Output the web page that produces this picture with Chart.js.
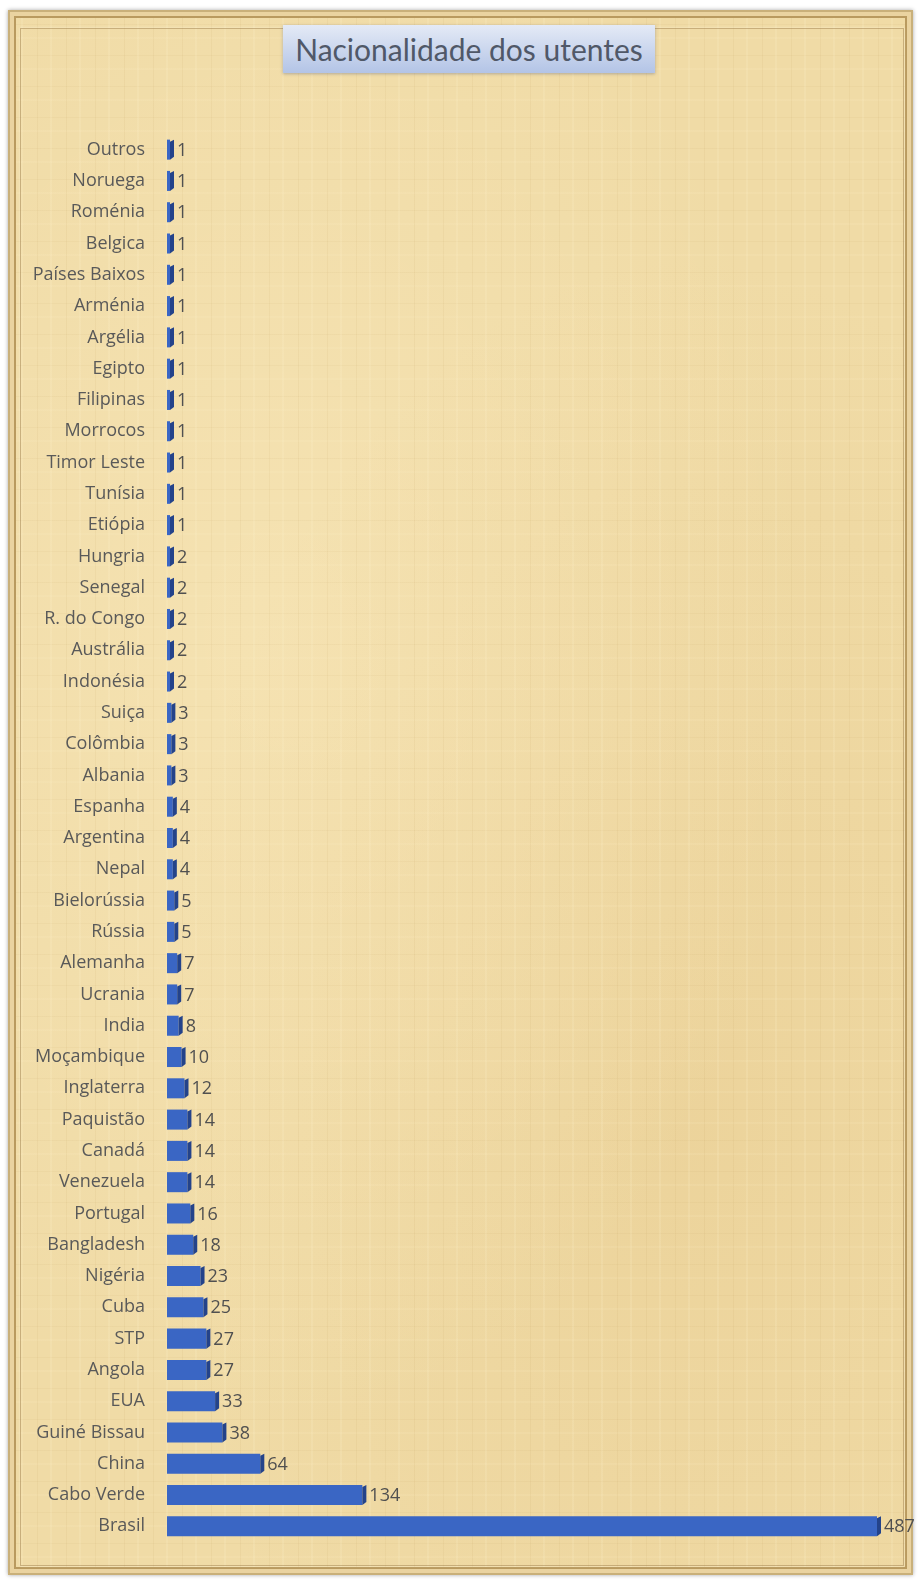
<!DOCTYPE html>
<html>
<head>
<meta charset="utf-8">
<script src="https://cdn.jsdelivr.net/npm/chart.js@4"></script>
<style>
  html, body { margin: 0; padding: 0; background: #fff; }
  #wrap { position: relative; width: 921px; height: 1580px; overflow: hidden; }
  /* parchment frame */
  #frame {
    position: absolute; left: 8px; top: 10px; width: 905px; height: 1565px;
    background-color: #f0dba6;
    background-image:
      repeating-linear-gradient(90deg, rgba(170,130,60,0.07) 0 1px, transparent 1px 13px, rgba(255,245,210,0.15) 13px 15px, transparent 15px 29px),
      repeating-linear-gradient(0deg, rgba(160,120,50,0.05) 0 1px, transparent 1px 17px, rgba(255,240,200,0.12) 17px 19px, transparent 19px 31px),
      radial-gradient(ellipse at 30% 40%, rgba(255,240,200,0.35), transparent 60%),
      radial-gradient(ellipse at 75% 70%, rgba(220,180,110,0.2), transparent 55%);
    box-shadow: inset 0 0 0 2px #c9b07a, inset 0 0 0 6px #ead3a0, inset 0 0 0 8px #b99a5f, 0 0 4px rgba(0,0,0,0.35);
  }
  #inner {
    position: absolute; left: 20px; top: 28px; width: 882px; height: 1536px;
    border: 1px solid rgba(150,120,70,0.45);
    box-shadow: 0 0 2px rgba(255,250,230,0.6);
  }
  #title {
    position: absolute; left: 283px; top: 25px; width: 372px; height: 48px;
    background: linear-gradient(#e4eaf6, #b3c4e6);
    box-shadow: 0 1px 3px rgba(80,90,120,0.4);
    font-family: Lato, "Open Sans", sans-serif; font-size: 30px; color: #505868;
    text-align: center; line-height: 48px;
  }
  #chartBox { position: absolute; left: 0; top: 0; width: 921px; height: 1580px; }
</style>
</head>
<body>
<div id="wrap">
  <div id="frame"></div>
  <div id="inner"></div>
  <div id="title">Nacionalidade dos utentes</div>
  <div id="chartBox"><canvas id="myChart"></canvas></div>
</div>
<script>
// nationalities, top to bottom
const countries = ['Outros', 'Noruega', 'Roménia', 'Belgica', 'Países Baixos', 'Arménia', 'Argélia', 'Egipto',
  'Filipinas', 'Morrocos', 'Timor Leste', 'Tunísia', 'Etiópia', 'Hungria', 'Senegal', 'R. do Congo',
  'Austrália', 'Indonésia', 'Suiça', 'Colômbia', 'Albania', 'Espanha', 'Argentina', 'Nepal',
  'Bielorússia', 'Rússia', 'Alemanha', 'Ucrania', 'India', 'Moçambique', 'Inglaterra', 'Paquistão',
  'Canadá', 'Venezuela', 'Portugal', 'Bangladesh', 'Nigéria', 'Cuba', 'STP', 'Angola', 'EUA',
  'Guiné Bissau', 'China', 'Cabo Verde', 'Brasil'];
const utentes = [1, 1, 1, 1, 1, 1, 1, 1, 1, 1, 1, 1, 1, 2, 2, 2, 2, 2, 3, 3, 3, 4, 4, 4,
  5, 5, 7, 7, 8, 10, 12, 14, 14, 14, 16, 18, 23, 25, 27, 27, 33, 38, 64, 134, 487];
const xMax = 487;

const labelFont = { family: '"Open Sans", Lato, sans-serif', size: 18 };

// draws the dark right face of each bar and the value after it
const barExtras = {
  id: 'barExtras',
  afterDatasetsDraw(chart) {
    const c = chart.ctx;
    const meta = chart.getDatasetMeta(0);
    meta.data.forEach((bar, i) => {
      const h = bar.height;
      const top = bar.y - h / 2;
      const x = bar.x;
      c.save();
      c.fillStyle = '#24438a';
      c.beginPath();
      c.moveTo(x, top + 2);
      c.lineTo(x + 4, top);
      c.lineTo(x + 4, top + h - 3);
      c.lineTo(x, top + h);
      c.closePath();
      c.fill();
      c.fillStyle = '#505050';
      c.font = '18px "Open Sans", Lato, sans-serif';
      c.textBaseline = 'middle';
      c.fillText(utentes[i], x + 7, bar.y + 1);
      c.restore();
    });
  }
};

const ctx = document.getElementById('myChart');

new Chart(ctx, {
  type: 'bar',
  data: {
    labels: countries,
    datasets: [
      {
        label: 'Nacionalidade dos utentes',
        data: utentes,
        backgroundColor: function (context) {
          const bar = context.element;
          if (!bar || !Number.isFinite(bar.y) || !Number.isFinite(bar.height) || bar.height <= 0) {
            return '#3a66c4';
          }
          const h = bar.height;
          const g = context.chart.ctx.createLinearGradient(0, bar.y - h / 2, 0, bar.y + h / 2);
          g.addColorStop(0, '#7098e0');
          g.addColorStop(0.25, '#3f6ccc');
          g.addColorStop(1, '#2a54ad');
          return g;
        },
        borderWidth: 0,
        barPercentage: 0.64,
        categoryPercentage: 1,
        minBarLength: 3,
      },
    ],
  },
  options: {
    indexAxis: 'y',
    responsive: true,
    maintainAspectRatio: false,
    animation: false,
    layout: {
      padding: { top: 134, bottom: 38, left: 20, right: 44 },
    },
    plugins: {
      legend: { display: false },
      tooltip: { enabled: false },
    },
    scales: {
      x: {
        display: false,
        min: 0,
        max: xMax,
        grid: { display: false },
      },
      y: {
        grid: { display: false, drawTicks: false },
        border: { display: false },
        afterFit: function (scale) {
          scale.width = 147;
        },
        ticks: {
          color: '#595959',
          font: labelFont,
          padding: 22,
          autoSkip: false,
        },
      },
    },
  },
  plugins: [barExtras],
});
</script>
</body>
</html>
